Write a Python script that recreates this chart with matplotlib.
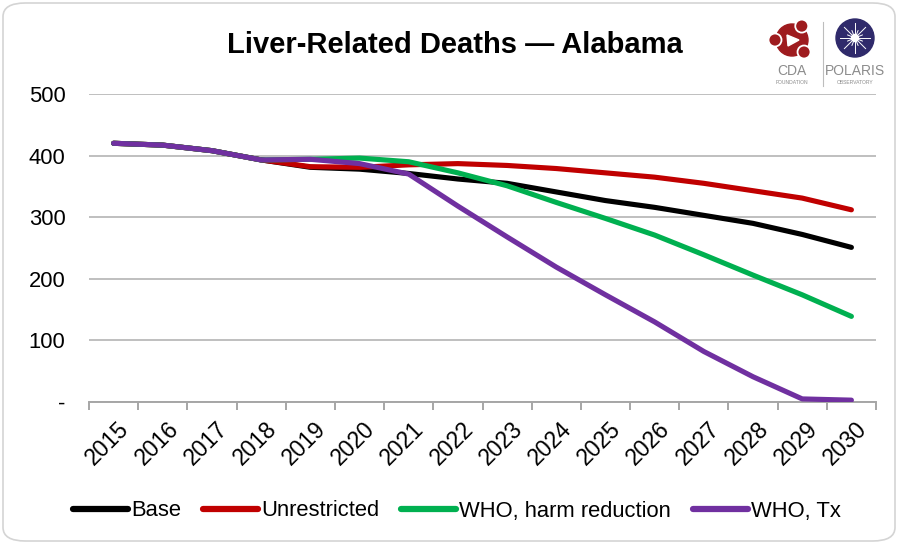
import numpy as np
import matplotlib
matplotlib.use("Agg")
import matplotlib.pyplot as plt
from matplotlib.patches import FancyBboxPatch, Circle, Polygon
from matplotlib.lines import Line2D
import matplotlib.transforms as mtransforms

plt.rcParams['font.family'] = ['Liberation Sans', 'DejaVu Sans']

years = [str(y) for y in range(2015, 2031)]
base = [420, 417, 408, 393, 381, 378, 371, 362, 355, 341, 327, 316, 303, 290, 272, 251]
unrestricted = [420, 417, 408, 393, 382, 381, 385, 387, 384, 379, 372, 365, 355, 343, 331, 312]
who_harm = [420, 417, 408, 393, 394, 396, 390, 372, 351, 324, 298, 271, 239, 206, 174, 139]
who_tx = [420, 417, 408, 393, 394, 387, 370, 318, 268, 219, 174, 130, 82, 41, 5, 3]
series_names = ["Base", "Unrestricted", "WHO, harm reduction", "WHO, Tx"]
series_colors = ["#000000", "#C00000", "#00B050", "#7030A0"]
y_ticks = [0, 100, 200, 300, 400, 500]
y_tick_labels = ["-", "100", "200", "300", "400", "500"]

W, H = 898, 543
fig = plt.figure(figsize=(W / 100, H / 100), dpi=100)

# rounded frame around the whole chart
frame = FancyBboxPatch((3 / W, 2 / H), 892 / W, 538 / H,
                       boxstyle="round,pad=0,rounding_size=0.025",
                       transform=fig.transFigure, facecolor="none",
                       edgecolor="#d4d4d4", linewidth=1.2, zorder=-1)
fig.patches.append(frame)

ax = fig.add_axes([89 / W, 141 / H, 787 / W, 308 / H])
ax.set_facecolor("none")
x = np.arange(len(years))
for vals, name, col in zip([base, unrestricted, who_harm, who_tx], series_names, series_colors):
    ax.plot(x, vals, color=col, lw=3.7, solid_capstyle="round",
            solid_joinstyle="round", label=name, zorder=3)

ax.set_xlim(-0.5, len(years) - 0.5)
ax.set_ylim(0, 500)
ax.set_yticks(y_ticks)
ax.set_yticklabels(y_tick_labels)
ax.yaxis.grid(True, color="#bfbfbf", lw=1.4)
ax.set_axisbelow(True)
for s in ["left", "right", "top"]:
    ax.spines[s].set_visible(False)
ax.spines["bottom"].set_color("#a6a6a6")
ax.spines["bottom"].set_linewidth(1.4)
ax.tick_params(axis="y", length=0, pad=17, labelsize=15.8)

# category boundaries carry the tick marks, labels sit at category centres
ax.set_xticks(np.arange(-0.5, len(years), 1.0))
ax.set_xticklabels([])
ax.tick_params(axis="x", which="major", length=6, width=1.4, color="#a6a6a6", direction="out")
ax.set_xticks(x, minor=True)
ax.set_xticklabels(years, minor=True, rotation=45, ha="center", va="top", fontsize=16.5)
ax.tick_params(axis="x", which="minor", length=0, pad=11)
shift = mtransforms.ScaledTranslation(-6 / 100, 0, fig.dpi_scale_trans)
for lbl in ax.get_xticklabels(minor=True):
    lbl.set_transform(lbl.get_transform() + shift)

fig.text(455 / W, 1 - 45 / H, "Liver-Related Deaths \u2014 Alabama", ha="center", va="center",
         fontsize=21, fontweight="bold")

handles = [Line2D([0], [0], color=c, lw=4.5, solid_capstyle="round") for c in series_colors]
fig.legend(handles, series_names, loc="center", bbox_to_anchor=(457 / W, 1 - 511 / H),
           ncol=4, frameon=False, fontsize=15.8, handlelength=2.5, handletextpad=0.15,
           columnspacing=1.0)

# logos
lax = fig.add_axes([760 / W, 1 - 92 / H, 130 / W, 78 / H])
lax.set_xlim(760, 890)
lax.set_ylim(92, 14)
lax.set_aspect("equal")
lax.axis("off")
red = "#9E1B1E"
cx, cy = 792, 40
lax.add_patch(Circle((cx, cy), 16, color=red))
for ang in (55, 180, -45):
    a = np.deg2rad(ang)
    lax.add_patch(Circle((cx + 17 * np.cos(a), cy - 17 * np.sin(a)), 6.5, color=red,
                         ec="white", lw=1.3))
lax.add_patch(Polygon([[787, 35], [799, 40], [788, 46]], closed=True, color="white"))
lax.text(cx, 71, "CDA", ha="center", va="center", fontsize=10, color="#8c8c8c")
lax.text(cx, 82, "FOUNDATION", ha="center", va="center", fontsize=3.6, color="#8c8c8c")
lax.plot([823, 823], [22, 86], color="#bdbdbd", lw=0.8)
lax.add_patch(Circle((855, 38), 19, color="#2F2A6B"))
for ang in np.arange(0, 180, 22.5):
    a = np.deg2rad(ang)
    r = 15 if ang % 45 == 0 else 8
    lax.plot([855 - r * np.cos(a), 855 + r * np.cos(a)],
             [38 - r * np.sin(a), 38 + r * np.sin(a)], color="white", lw=0.7)
lax.add_patch(Circle((855, 38), 3.5, color="white"))
lax.text(855, 71, "POLARIS", ha="center", va="center", fontsize=10, color="#8c8c8c")
lax.text(855, 82, "OBSERVATORY", ha="center", va="center", fontsize=3.6, color="#8c8c8c")

fig.savefig("out.png", dpi=100)
